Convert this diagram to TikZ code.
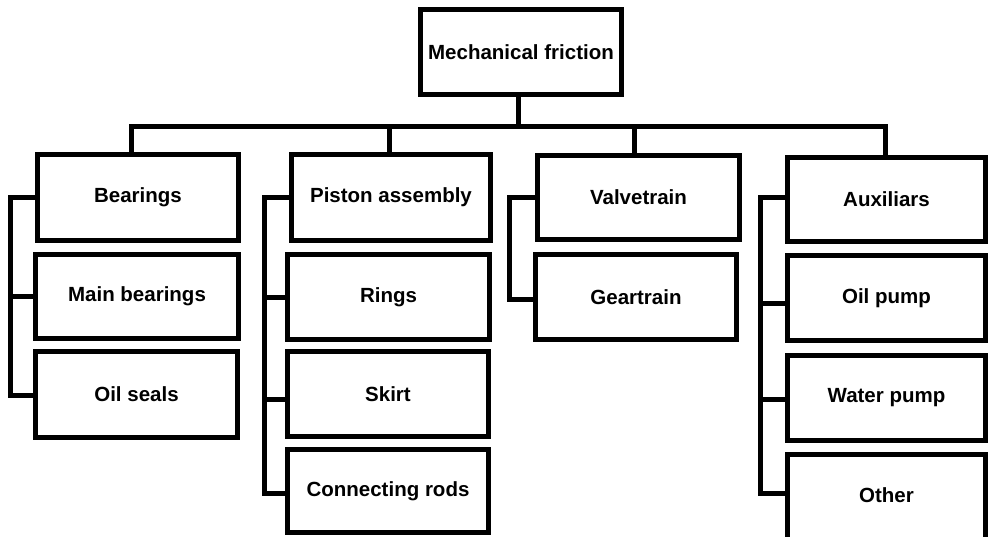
\documentclass[tikz,border=0pt]{standalone}
\usepackage{fontspec}
\setmainfont{Liberation Sans}
\begin{document}
\begin{tikzpicture}[x=1pt,y=-1pt,
  box/.style={draw=black, line width=5pt, fill=white, minimum width=201pt, minimum height=85pt, inner sep=0pt, font=\fontsize{20.5}{24}\selectfont\bfseries},
  conn/.style={draw=black, line width=5pt}]
\clip (0,0) rectangle (988,536);
\fill[white] (0,0) rectangle (988,536);
% boxes
\node[box, minimum height=85pt] (top) at (521,52) {Mechanical friction};
\node[box, minimum height=86pt] (bear) at (138,197.5) {Bearings};
\node[box, minimum height=84pt, minimum width=203pt] (mainb) at (137,296.5) {Main bearings};
\node[box, minimum height=86pt, minimum width=202pt] (seals) at (136.5,394.5) {Oil seals};
\node[box, minimum height=86pt, minimum width=199pt] (piston) at (391,197.5) {Piston assembly};
\node[box, minimum height=85pt, minimum width=202pt] (rings) at (388.5,297) {Rings};
\node[box, minimum height=85pt] (skirt) at (388,394) {Skirt};
\node[box, minimum height=83pt] (rods) at (388,491) {Connecting rods};
\node[box, minimum height=84pt, minimum width=202pt] (valve) at (638.5,197.5) {Valvetrain};
\node[box, minimum height=85pt] (gear) at (636,297) {Geartrain};
\node[box, minimum height=84pt, minimum width=198pt] (aux) at (886.5,199.5) {Auxiliars};
\node[box, minimum height=85pt, minimum width=198pt] (oilp) at (886.5,298) {Oil pump};
\node[box, minimum height=85pt, minimum width=198pt] (water) at (886.5,398) {Water pump};
\node[box, minimum height=90pt, minimum width=198pt, text depth=0pt] (other) at (886.5,499.5) {\raisebox{8pt}{Other}};
% bus
\coordinate (busy) at (0,126);
\coordinate (bx1) at (131.5,0);
\coordinate (bx2) at (389,0);
\coordinate (bx3) at (634,0);
\coordinate (bx4) at (885.5,0);
\draw[conn] ([xshift=-3pt]top.south) -- ([xshift=-3pt]top.south |- busy);
\draw[conn] (bear.north -| bx1) -- (bx1 |- busy) -- (bx4 |- busy) -- (aux.north -| bx4);
\draw[conn] (piston.north -| bx2) -- (bx2 |- busy);
\draw[conn] (valve.north -| bx3) -- (bx3 |- busy);
% group 1
\coordinate (g1) at (10.5,395.5);
\draw[conn] (bear.west) -| (g1) -- (g1 -| seals.west);
\draw[conn] (mainb.west) -- (mainb.west -| g1);
% group 2
\coordinate (g2) at (264.5,493);
\draw[conn] (piston.west) -| (g2) -- (g2 -| rods.west);
\draw[conn] (rings.west) -- (rings.west -| g2);
\draw[conn] ([yshift=-5.5pt]skirt.west) -- ([yshift=-5.5pt]skirt.west -| g2);
% group 3
\coordinate (g3) at (509.5,299.5);
\draw[conn] (valve.west) -| (g3) -- (g3 -| gear.west);
% group 4
\coordinate (g4) at (760.5,493);
\draw[conn] ([yshift=2pt]aux.west) -| (g4) -- (g4 -| other.west);
\draw[conn] ([yshift=-5.5pt]oilp.west) -- ([yshift=-5.5pt]oilp.west -| g4);
\draw[conn] ([yshift=-1.5pt]water.west) -- ([yshift=-1.5pt]water.west -| g4);
\end{tikzpicture}
\end{document}
